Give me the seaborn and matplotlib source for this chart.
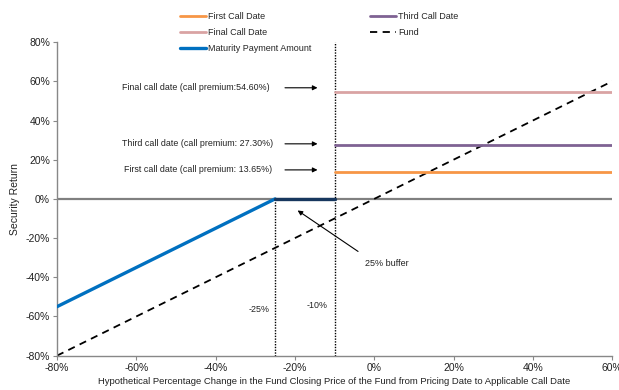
import matplotlib
matplotlib.use("Agg")
import matplotlib.pyplot as plt
import seaborn as sns
import pandas as pd
from matplotlib.ticker import FuncFormatter, MultipleLocator

# ---- data ----
fund_x = [-80, 60]
fund_y = [-80, 60]
maturity_x = [-80, -25]
maturity_y = [-55, 0]
flat_x = [-25, -10]
flat_y = [0, 0]
call_x = [-10, 60]
first_call = [13.65, 13.65]
third_call = [27.30, 27.30]
final_call = [54.60, 54.60]
x_ticks = [-80, -60, -40, -20, 0, 20, 40, 60]
y_ticks = [-80, -60, -40, -20, 0, 20, 40, 60, 80]

sns.set_theme(style="white")
plt.rcParams['font.family'] = ['Liberation Sans', 'DejaVu Sans']

fig = plt.figure(figsize=(6.19, 3.90), dpi=100)
ax = fig.add_axes([0.092, 0.088, 0.897, 0.804])

ax.axhline(0, color="#808080", lw=1.6, zorder=1)

sns.lineplot(x=call_x, y=first_call, ax=ax, color="#F79646", lw=2, label="First Call Date", zorder=3)
sns.lineplot(x=call_x, y=final_call, ax=ax, color="#D9A3A3", lw=2, label="Final Call Date", zorder=3)
sns.lineplot(x=maturity_x, y=maturity_y, ax=ax, color="#0070C0", lw=2.4, label="Maturity Payment Amount", zorder=4)
sns.lineplot(x=flat_x, y=flat_y, ax=ax, color="#17375E", lw=2.4, zorder=4)
sns.lineplot(x=call_x, y=third_call, ax=ax, color="#7F6293", lw=2, label="Third Call Date", zorder=3)
sns.lineplot(x=fund_x, y=fund_y, ax=ax, color="black", lw=1.3, label="Fund", zorder=2)
ax.lines[-1].set_dashes([4, 3])

ax.plot([-25, -25], [-80, 0], color="black", lw=1, ls=(0, (1, 1)), zorder=2)
ax.plot([-10, -10], [-80, 80], color="black", lw=1, ls=(0, (1, 1)), zorder=2)

ax.set_xlim(-80, 60)
ax.set_ylim(-80, 80)
ax.set_xticks(x_ticks)
ax.set_yticks(y_ticks)
fmt = FuncFormatter(lambda v, p: f"{int(round(v))}%")
ax.xaxis.set_major_formatter(fmt)
ax.yaxis.set_major_formatter(fmt)
ax.tick_params(axis="both", labelsize=7.5, colors="#888888", labelcolor="#222222",
               length=3, width=0.8, direction="out", left=True, bottom=True, pad=2)

for s in ["top", "right"]:
    ax.spines[s].set_visible(False)
for s in ["left", "bottom"]:
    ax.spines[s].set_color("#888888")
    ax.spines[s].set_linewidth(1)

ax.set_ylabel("Security Return", fontsize=7.5, color="#222222", labelpad=4)
ax.set_xlabel("Hypothetical Percentage Change in the Fund Closing Price of the Fund from Pricing Date to Applicable Call Date",
              fontsize=6.8, color="#222222", labelpad=3)

ann_kw = dict(fontsize=6.4, color="#222222", va="center", ha="center")
arrow = dict(arrowstyle="-|>", color="black", lw=0.8, mutation_scale=7)
ax.annotate("", xy=(-13.6, 56.7), xytext=(-23.2, 56.7), arrowprops=arrow)
ax.annotate("", xy=(-13.6, 28.1), xytext=(-23.2, 28.1), arrowprops=arrow)
ax.annotate("", xy=(-13.6, 14.8), xytext=(-23.2, 14.8), arrowprops=arrow)
ax.text(-44.9, 56.7, "Final call date (call premium:54.60%)", **ann_kw)
ax.text(-44.5, 28.1, "Third call date (call premium: 27.30%)", **ann_kw)
ax.text(-44.4, 14.8, "First call date (call premium: 13.65%)", **ann_kw)
ax.annotate("", xy=(-19.9, -5.1), xytext=(-3.5, -27.6), arrowprops=arrow)
ax.text(-2.3, -32.8, "25% buffer", fontsize=6.5, color="#222222", va="center", ha="left")
ax.text(-29, -56.2, "-25%", **ann_kw)
ax.text(-14.3, -54.2, "-10%", **ann_kw)

h, l = ax.get_legend_handles_labels()
order = ["First Call Date", "Final Call Date", "Maturity Payment Amount", "Third Call Date", "Fund"]
hd = dict(zip(l, h))
ax.legend([hd[k] for k in order], order, ncol=2, loc="upper left",
          bbox_to_anchor=(180 / 619, 1 - 12 / 390), bbox_transform=fig.transFigure,
          frameon=False, fontsize=6.5, handlelength=2.9, handletextpad=0.25,
          columnspacing=6.4, labelspacing=0.8, borderaxespad=0, borderpad=0)

fig.savefig("out.png", dpi=100)
